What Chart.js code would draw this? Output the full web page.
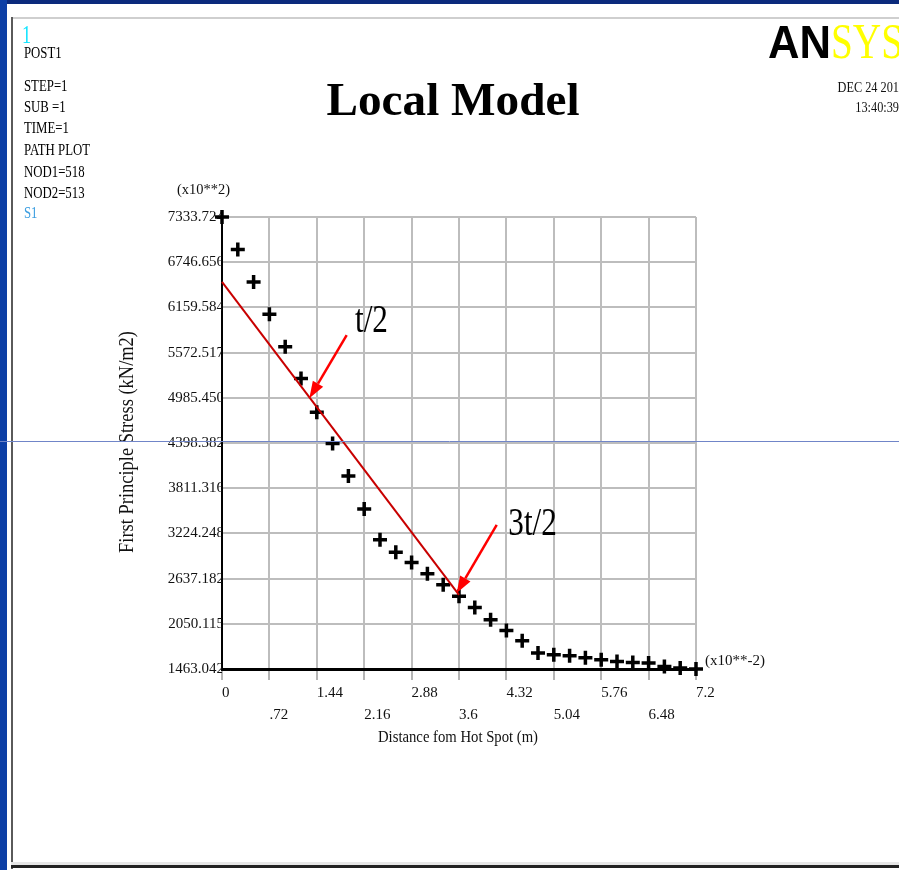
<!DOCTYPE html>
<html>
<head>
<meta charset="utf-8">
<script src="https://cdn.jsdelivr.net/npm/chart.js@4.4.1/dist/chart.umd.min.js"></script>
<style>
    html, body { margin: 0; padding: 0; background: #fff; overflow: hidden; }
    canvas { display: block; }
</style>
</head>
<body>
<canvas id="plot" width="899" height="870"></canvas>
<script>
// distance along path (x10**-2 m) and first principal stress (x10**2 kN/m2)
const distance = [0, 0.24, 0.48, 0.72, 0.96, 1.2, 1.44, 1.68, 1.92, 2.16, 2.4, 2.64, 2.88, 3.12, 3.36, 3.6,
    3.84, 4.08, 4.32, 4.56, 4.8, 5.04, 5.28, 5.52, 5.76, 6.0, 6.24, 6.48, 6.72, 6.96, 7.2];
const stress = [7333.7, 6910.8, 6490.6, 6071.6, 5647.5, 5237.6, 4796.6, 4391.9, 3970.3, 3542.3, 3140.2,
    2980.6, 2845.7, 2699.2, 2556.5, 2407.3, 2262.0, 2102.5, 1963.7, 1830.1, 1670.5, 1648.5, 1635.5,
    1609.6, 1583.7, 1561.7, 1548.7, 1540.7, 1496.7, 1476.0, 1463.0];

// red extrapolation line (t/2 -> 3t/2)
const fitX = [0, 3.6];
const fitY = [6490, 2425];

const xTickValues = [0, 0.72, 1.44, 2.16, 2.88, 3.6, 4.32, 5.04, 5.76, 6.48, 7.2];
const xTickLabels = ["0", ".72", "1.44", "2.16", "2.88", "3.6", "4.32", "5.04", "5.76", "6.48", "7.2"];
const yTickValues = [1463.042, 2050.115, 2637.182, 3224.248, 3811.316, 4398.382, 4985.45, 5572.517,
    6159.584, 6746.656, 7333.724];
const yTickLabels = ["1463.042", "2050.115", "2637.182", "3224.248", "3811.316", "4398.382", "4985.450",
    "5572.517", "6159.584", "6746.656", "7333.724"];

const infoLines = ["POST1", "STEP=1", "SUB =1", "TIME=1", "PATH PLOT", "NOD1=518", "NOD2=513"];

////////////////////////////////////////////////////////////////////////////////////

const SERIF = "'Liberation Serif', 'DejaVu Serif', serif";
const INK = "#111";

function put(ctx, text, x, y, o) {
    ctx.save();
    ctx.font = (o.bold ? "bold " : "") + o.size + "px " + (o.family || SERIF);
    ctx.fillStyle = o.color || INK;
    ctx.textBaseline = o.baseline || "alphabetic";
    const w = ctx.measureText(text).width;
    const sx = o.w ? o.w / w : (o.sx || 1);
    ctx.translate(x, y);
    if (o.rot) ctx.rotate(o.rot);
    ctx.scale(sx, 1);
    const align = o.align || "left";
    const dx = align === "center" ? -w / 2 : (align === "right" ? -w : 0);
    ctx.fillText(text, dx, 0);
    ctx.restore();
}

function arrow(ctx, x1, y1, x2, y2) {
    const ang = Math.atan2(y2 - y1, x2 - x1);
    const len = 17, half = 6;
    const bx = x2 - len * Math.cos(ang), by = y2 - len * Math.sin(ang);
    ctx.save();
    ctx.strokeStyle = "#ff0000";
    ctx.fillStyle = "#ff0000";
    ctx.lineWidth = 2.5;
    ctx.beginPath();
    ctx.moveTo(x1, y1);
    ctx.lineTo(bx, by);
    ctx.stroke();
    ctx.beginPath();
    ctx.moveTo(x2, y2);
    ctx.lineTo(bx + half * Math.sin(ang), by - half * Math.cos(ang));
    ctx.lineTo(bx - half * Math.sin(ang), by + half * Math.cos(ang));
    ctx.closePath();
    ctx.fill();
    ctx.restore();
}

const overlay = {
    id: "overlay",
    beforeDraw(chart) {
        const ctx = chart.ctx;
        ctx.save();
        ctx.fillStyle = "#fff";
        ctx.fillRect(0, 0, 899, 870);
        ctx.fillStyle = "#0b2a7c";
        ctx.fillRect(0, 0, 899, 4);
        ctx.fillStyle = "#0d3fa6";
        ctx.fillRect(0, 0, 7, 870);
        ctx.fillStyle = "#cfcfcf";
        ctx.fillRect(11, 17, 888, 2);
        ctx.fillStyle = "#5a5a5a";
        ctx.fillRect(11, 17, 2, 852);
        ctx.fillStyle = "#e6e6e6";
        ctx.fillRect(11, 862, 888, 3);
        ctx.fillStyle = "#222";
        ctx.fillRect(11, 865, 888, 3);
        ctx.restore();
    },
    afterDraw(chart) {
        const ctx = chart.ctx;
        const xs = chart.scales.x, ys = chart.scales.y;

        put(ctx, "1", 22, 43, {size: 26, sx: 0.7, color: "#12e4ff"});
        const infoY = [58, 91, 112, 133, 155, 177, 198];
        infoLines.forEach((t, i) => put(ctx, t, 24, infoY[i], {size: 16, sx: 0.8, color: "#000"}));
        put(ctx, "S1", 24, 218, {size: 16, sx: 0.8, color: "#3a9de0"});

        put(ctx, "Local Model", 453, 115, {size: 47, bold: true, align: "center", w: 253, color: "#000"});

        put(ctx, "AN", 768, 58, {size: 47, bold: true, w: 63, color: "#000",
            family: "'Liberation Sans', 'DejaVu Sans', sans-serif"});
        put(ctx, "SYS", 831, 58, {size: 50, w: 72, color: "#ffff00"});
        put(ctx, "DEC 24 201", 899, 92, {size: 15, sx: 0.82, align: "right"});
        put(ctx, "13:40:39", 899, 112, {size: 15, sx: 0.82, align: "right"});

        put(ctx, "(x10**2)", 177, 194, {size: 15, w: 53});
        put(ctx, "(x10**-2)", 705, 665, {size: 15, w: 60});
        put(ctx, "Distance fom Hot Spot (m)", 458, 742, {size: 16, w: 160, align: "center"});
        put(ctx, "First Principle Stress (kN/m2)", 128, 442, {size: 20, w: 222, align: "center",
            baseline: "middle", rot: -Math.PI / 2});

        // annotations placed in data units
        arrow(ctx, xs.getPixelForValue(1.894), ys.getPixelForValue(5799),
            xs.getPixelForValue(1.327), ys.getPixelForValue(4978));
        arrow(ctx, xs.getPixelForValue(4.173), ys.getPixelForValue(3335),
            xs.getPixelForValue(3.565), ys.getPixelForValue(2449));
        put(ctx, "t/2", xs.getPixelForValue(2.02), ys.getPixelForValue(5838), {size: 40, sx: 0.78, color: "#000"});
        put(ctx, "3t/2", xs.getPixelForValue(4.349), ys.getPixelForValue(3205), {size: 40, sx: 0.78, color: "#000"});

        ctx.save();
        ctx.strokeStyle = "#7085c8";
        ctx.lineWidth = 1;
        ctx.beginPath();
        ctx.moveTo(0, 441.5);
        ctx.lineTo(899, 441.5);
        ctx.stroke();
        ctx.restore();
    }
};

////////////////////////////////////////////////////////////////////////////////////

const plot = document.querySelector("#plot");

const myChart = new Chart(plot, {
    type: "scatter",
    data: {
        datasets: [
            {
                label: "S1",
                data: distance.map((d, i) => ({x: d, y: stress[i]})),
                pointStyle: "cross",
                pointRadius: 7,
                pointBorderWidth: 3.5,
                borderColor: "#000",
                backgroundColor: "#000",
                showLine: false,
                clip: false,
                order: 1
            },
            {
                label: "fit",
                type: "line",
                data: fitX.map((d, i) => ({x: d, y: fitY[i]})),
                borderColor: "#c80000",
                borderWidth: 2,
                pointRadius: 0,
                fill: false,
                clip: false,
                order: 0
            }
        ]
    },
    options: {
        animation: false,
        responsive: false,
        devicePixelRatio: 1,
        layout: {
            padding: {left: 162, right: 203, top: 217, bottom: 121}
        },
        plugins: {
            legend: {display: false},
            tooltip: {enabled: false}
        },
        scales: {
            x: {
                type: "linear",
                min: 0,
                max: 7.2,
                afterBuildTicks: (s) => { s.ticks = xTickValues.map(v => ({value: v})); },
                afterFit: (s) => { s.height = 80; },
                grid: {color: "#bdbdbd", lineWidth: 2, drawTicks: true, tickLength: 11, tickColor: "#b5b5b5"},
                border: {display: true, color: "#000", width: 3},
                ticks: {
                    autoSkip: false,
                    maxRotation: 0,
                    align: "start",
                    padding: 2,
                    color: INK,
                    font: {family: SERIF, size: 15, lineHeight: 1.45},
                    callback: (v, i) => (i % 2 === 0 ? [xTickLabels[i]] : ["", xTickLabels[i]])
                }
            },
            y: {
                type: "linear",
                min: 1463.042,
                max: 7333.724,
                afterBuildTicks: (s) => { s.ticks = yTickValues.map(v => ({value: v})); },
                afterFit: (s) => { s.width = 60; },
                grid: {color: "#bdbdbd", lineWidth: 2, drawTicks: false},
                border: {display: true, color: "#000", width: 2},
                ticks: {
                    autoSkip: false,
                    padding: -2,
                    color: INK,
                    font: {family: SERIF, size: 15},
                    callback: (v, i) => yTickLabels[i]
                }
            }
        }
    },
    plugins: [overlay]
});
</script>
</body>
</html>
